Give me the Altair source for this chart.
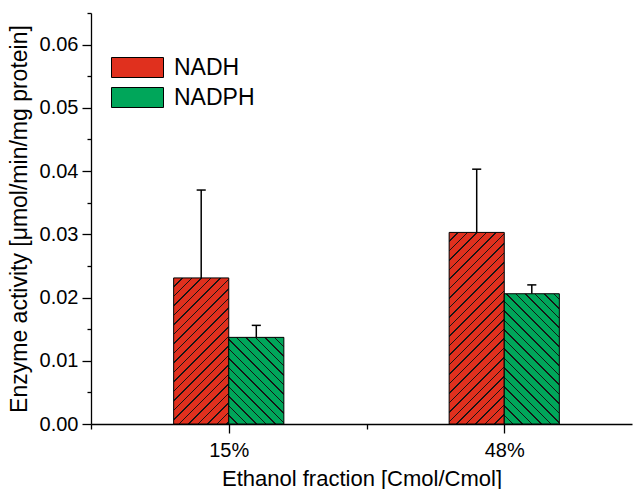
import altair as alt
import pandas as pd

# ---- data ----
fractions = ["15%", "48%"]
positions = [1, 2]
series = ["NADH", "NADPH"]
nadh = [0.0231, 0.0303]
nadh_err = [0.0139, 0.0100]
nadph = [0.0137, 0.0206]
nadph_err = [0.0019, 0.0014]
y_major = [0.0, 0.01, 0.02, 0.03, 0.04, 0.05, 0.06]
y_minor = [0.005, 0.015, 0.025, 0.035, 0.045, 0.055, 0.065]
x_minor = [0.5, 1.5]

# ---- styles / layout ----
colors = ["#e0301e", "#00a65a"]
hatch_dirs = ["/", "\\"]
FONT = "Liberation Sans"
W, H = 541, 411
x_domain = [0.5, 2.4637]
y_domain = [0, 0.065]
bar_w = 0.2
cap_half = 0.0165

rows = []
for i, f in enumerate(fractions):
    for s, vals, errs in (("NADH", nadh, nadh_err), ("NADPH", nadph, nadph_err)):
        rows.append({"fraction": f, "pos": positions[i], "series": s,
                     "value": vals[i], "err": errs[i]})
df = pd.DataFrame(rows)


def hatch(color, w, h, direction, gid, period=9.5, lw=1.5, line="#151515"):
    """Diagonal hatch drawn as a hard-stop linear gradient over the bar's box."""
    total = w + h
    a = w * total / (w * w + h * h)
    f = period / total
    lf = lw / total
    stops = []
    k = 0
    while k * f < 1 - 1e-9:
        o = k * f
        e = min(o + f - lf, 1.0)
        stops.append({"offset": round(o, 5), "color": color})
        stops.append({"offset": round(e, 5), "color": color})
        if e < 1:
            end = min(o + f, 1.0)
            stops.append({"offset": round(e, 5), "color": line})
            stops.append({"offset": round(end, 5), "color": line})
        k += 1
    if direction == "/":
        return {"gradient": "linear", "id": gid, "x1": 0, "y1": 0,
                "x2": round(a, 5), "y2": round(a * h / w, 5), "stops": stops}
    return {"gradient": "linear", "id": gid, "x1": 0, "y1": 1,
            "x2": round(a, 5), "y2": round(1 - a * h / w, 5), "stops": stops}


bar_px = bar_w / (x_domain[1] - x_domain[0]) * W
conds = []
for r in rows:
    si = series.index(r["series"])
    h_px = r["value"] / y_domain[1] * H
    gid = "hatch_%d_%d" % (fractions.index(r["fraction"]), si)
    conds.append({"test": "datum.fraction == '%s' && datum.series == '%s'" % (r["fraction"], r["series"]),
                  "value": hatch(colors[si], bar_px, h_px, hatch_dirs[si], gid)})

x_label_expr = " : ".join("datum.value == %s ? '%s'" % (p, f) for p, f in zip(positions, fractions)) + " : ''"

x_scale = alt.Scale(domain=x_domain, nice=False, zero=False)
y_scale = alt.Scale(domain=y_domain, nice=False)

base = alt.Chart(df).transform_calculate(
    x_lo="datum.pos + (datum.series == 'NADH' ? -%s : 0)" % bar_w,
    x_hi="datum.pos + (datum.series == 'NADH' ? 0 : %s)" % bar_w,
    center="datum.pos + (datum.series == 'NADH' ? -%s : %s)" % (bar_w / 2, bar_w / 2),
    top="datum.value + datum.err",
)

bars = base.mark_bar(stroke="black", strokeWidth=1).encode(
    x=alt.X("x_lo:Q", scale=x_scale, axis=alt.Axis(
        title="Ethanol fraction [Cmol/Cmol]", values=positions, labelExpr=x_label_expr,
        tickSize=9, labelFontSize=20, labelPadding=7, titleFontSize=22, titlePadding=8,
        labelOverlap=False, labelBound=False, labelFlush=False, orient="bottom")),
    x2="x_hi:Q",
    y=alt.Y("value:Q", scale=y_scale, axis=alt.Axis(
        title="Enzyme activity [μmol/min/mg protein]", values=y_major, format=".2f",
        tickSize=9, labelFontSize=20, labelPadding=4, titleFontSize=23, titlePadding=8,
        labelOverlap=False, labelFlush=False, orient="left")),
    y2=alt.datum(0),
    fill=alt.Fill("series:N", scale=alt.Scale(domain=series, range=colors), condition=conds,
                  legend=alt.Legend(
                      title=None, orient="none", legendX=35, legendY=43, padding=0,
                      symbolType="M-2.6,-1H2.6V1H-2.6Z", symbolSize=400,
                      symbolStrokeColor="black", symbolStrokeWidth=1, symbolOpacity=1,
                      labelFontSize=23, labelFont=FONT, labelColor="black", labelOffset=25,
                      rowPadding=5, labelLimit=300)),
)

err_v = base.mark_rule(color="black", strokeWidth=1.5).encode(
    x=alt.X("center:Q", scale=x_scale, axis=None),
    y=alt.Y("value:Q", scale=y_scale, axis=None),
    y2="top:Q",
)

err_cap = base.transform_calculate(
    cl="datum.center - %s" % cap_half, cr="datum.center + %s" % cap_half
).mark_rule(color="black", strokeWidth=1.5).encode(
    x=alt.X("cl:Q", scale=x_scale, axis=alt.Axis(
        title=None, values=x_minor, tickSize=5, labels=False, domain=False, orient="bottom")),
    x2="cr:Q",
    y=alt.Y("top:Q", scale=y_scale, axis=alt.Axis(
        title=None, values=y_minor, tickSize=4, labels=False, domain=False, orient="left")),
)

chart = alt.layer(bars, err_v, err_cap).resolve_axis(
    x="independent", y="independent"
).properties(
    width=W, height=H, autosize="none",
    padding={"left": 91, "top": 13, "right": 1, "bottom": 65},
).configure(font=FONT).configure_view(stroke=None).configure_axis(
    domainColor="black", tickColor="black", labelColor="black", titleColor="black",
    domainWidth=1.3, tickWidth=1.3, grid=False, labelFont=FONT, titleFont=FONT,
    titleFontWeight="normal",
)

chart.save("out.html", embed_options={"renderer": "svg", "actions": False})
